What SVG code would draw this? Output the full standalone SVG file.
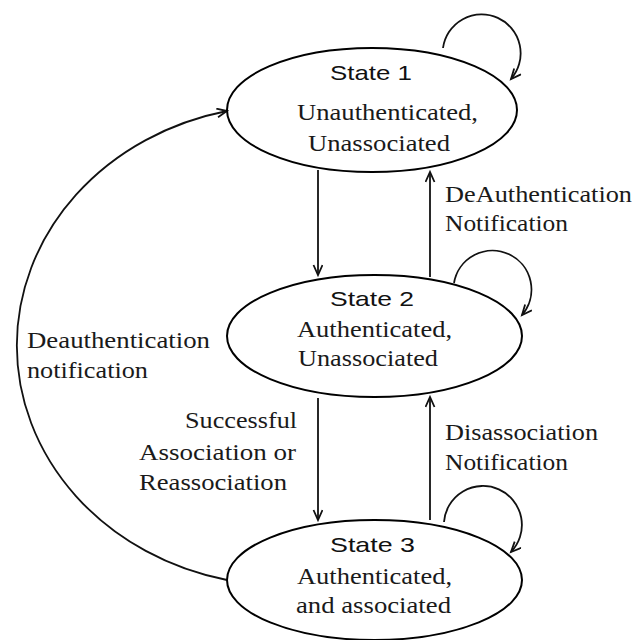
<svg xmlns="http://www.w3.org/2000/svg" width="637" height="640" viewBox="0 0 637 640">
<style>
.node ellipse{fill:none;stroke:#000;stroke-width:2}
.st{font-family:"Liberation Sans",Arial,sans-serif;font-size:21px;fill:#111}
.lb{font-family:"Liberation Serif","Times New Roman",serif;font-size:22.5px;fill:#1a1a1a}
.edge{fill:none;stroke:#111;stroke-width:1.8}
</style>
<defs>
<marker id="ah" markerUnits="userSpaceOnUse" markerWidth="14" markerHeight="12" refX="11" refY="5" orient="auto">
<path d="M1,0.5 L11,5 L1,9.5" fill="none" stroke="#111" stroke-width="1.8"/>
</marker>
</defs>
<rect width="637" height="640" fill="#fff"/>
<g id="connectors">
<path class="edge" d="M318,170 L318,275" marker-end="url(#ah)"/>
<path class="edge" d="M430,277 L430,172" marker-end="url(#ah)"/>
<path class="edge" d="M318,398 L318,520" marker-end="url(#ah)"/>
<path class="edge" d="M430,520 L430,397" marker-end="url(#ah)"/>
<path class="edge" d="M227,580 A267,240 0 0 1 227,111" marker-end="url(#ah)"/>
<path class="edge" d="M443,48 A39,39 0 1 1 511,79" marker-end="url(#ah)"/>
<path class="edge" d="M454,283 A39,39 0 1 1 522,315" marker-end="url(#ah)"/>
<path class="edge" d="M444,522 A39,39 0 1 1 511,552" marker-end="url(#ah)"/>
<text class="lb" x="445" y="202" textLength="187" lengthAdjust="spacingAndGlyphs">DeAuthentication</text>
<text class="lb" x="445" y="231" textLength="123" lengthAdjust="spacingAndGlyphs">Notification</text>
<text class="lb" x="445" y="440" textLength="153" lengthAdjust="spacingAndGlyphs">Disassociation</text>
<text class="lb" x="445" y="470" textLength="123" lengthAdjust="spacingAndGlyphs">Notification</text>
<text class="lb" x="27" y="348" textLength="183" lengthAdjust="spacingAndGlyphs">Deauthentication</text>
<text class="lb" x="27" y="378" textLength="121" lengthAdjust="spacingAndGlyphs">notification</text>
<text class="lb" x="185" y="428" textLength="112" lengthAdjust="spacingAndGlyphs">Successful</text>
<text class="lb" x="139" y="460" textLength="157" lengthAdjust="spacingAndGlyphs">Association or</text>
<text class="lb" x="139" y="490" textLength="148" lengthAdjust="spacingAndGlyphs">Reassociation</text>
</g>
<g id="state1" class="node">
<ellipse cx="372" cy="110" rx="145" ry="62"/>
<text class="st" x="330" y="80" textLength="82" lengthAdjust="spacingAndGlyphs">State 1</text>
<text class="lb" x="297" y="120" textLength="181" lengthAdjust="spacingAndGlyphs">Unauthenticated,</text>
<text class="lb" x="308" y="151" textLength="142" lengthAdjust="spacingAndGlyphs">Unassociated</text>
</g>
<g id="state2" class="node">
<ellipse cx="374.5" cy="336" rx="147.5" ry="61"/>
<text class="st" x="330" y="306" textLength="84" lengthAdjust="spacingAndGlyphs">State 2</text>
<text class="lb" x="297" y="337" textLength="155" lengthAdjust="spacingAndGlyphs">Authenticated,</text>
<text class="lb" x="298" y="366" textLength="140" lengthAdjust="spacingAndGlyphs">Unassociated</text>
</g>
<g id="state3" class="node">
<ellipse cx="374.5" cy="580" rx="147.5" ry="60"/>
<text class="st" x="330" y="552" textLength="85" lengthAdjust="spacingAndGlyphs">State 3</text>
<text class="lb" x="297" y="584" textLength="155" lengthAdjust="spacingAndGlyphs">Authenticated,</text>
<text class="lb" x="296" y="613" textLength="155" lengthAdjust="spacingAndGlyphs">and associated</text>
</g>
</svg>
